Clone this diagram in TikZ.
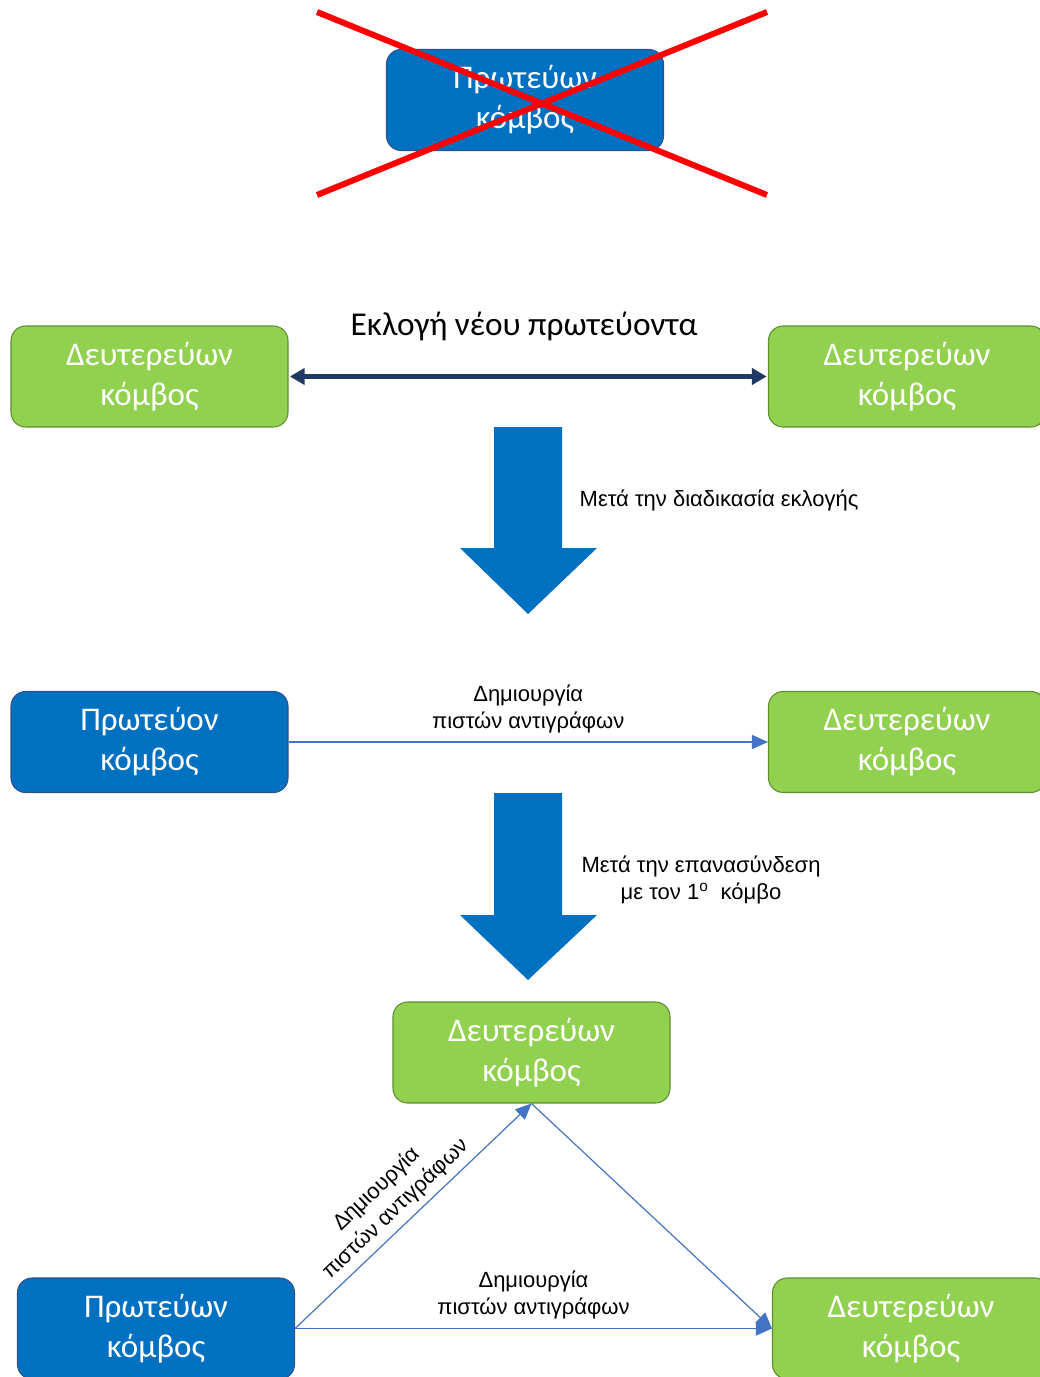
\documentclass[tikz,border=0pt]{standalone}
\usepackage{fontspec}
\setmainfont{Carlito}
\newfontfamily\labelfont{Liberation Sans}
\usetikzlibrary{arrows.meta}
\definecolor{nodeblue}{HTML}{0070C0}
\definecolor{blueedge}{HTML}{2F528F}
\definecolor{nodegreen}{HTML}{92D050}
\definecolor{greenedge}{HTML}{5E8E30}
\definecolor{navy}{HTML}{1F3864}
\definecolor{linkblue}{HTML}{4472C4}
\definecolor{crossred}{HTML}{FF0000}
\tikzset{
  nodebox/.style={rectangle, rounded corners=11pt, minimum width=207.75pt, minimum height=75.75pt,
    align=center, text=white, font=\fontsize{24.8}{30}\selectfont, inner sep=0pt},
  primary/.style={nodebox, fill=nodeblue, draw=blueedge, line width=0.8pt},
  secondary/.style={nodebox, fill=nodegreen, draw=greenedge, line width=0.8pt},
  linklabel/.style={font=\labelfont\fontsize{16.5}{20.5}\selectfont, align=center, text=black},
  replica/.style={draw=linkblue, line width=0.9pt, -{Triangle[length=12pt,width=10.5pt]}},
  blockarrow/.style={fill=nodeblue, draw=none}
}
\begin{document}
\begin{tikzpicture}[x=0.75pt,y=-0.75pt]
\useasboundingbox (0,0) rectangle (1039,1377);

% failed primary, crossed out
\node[primary] (old) at (525,100) {Πρωτεύων\\κόμβος};
\coordinate (xa) at (317,12);
\coordinate (xb) at (767,195);
\coordinate (xc) at (317,195);
\coordinate (xd) at (767,12);
\draw[crossred, line width=4.5pt] (xa) -- (xb);
\draw[crossred, line width=4.5pt] (xc) -- (xd);

% election between the two secondaries
\node[secondary] (s1) at (149.5,376.5) {Δευτερεύων\\κόμβος};
\node[secondary] (s2) at (907,376.5) {Δευτερεύων\\κόμβος};
\draw[navy, line width=3.6pt, {Triangle[length=11pt,width=12pt]}-{Triangle[length=11pt,width=12pt]}]
  ([xshift=1pt]s1.east) -- ([xshift=-1pt]s2.west);
\node[font=\fontsize{25}{30}\selectfont, text=black] (elect) at (524,326) {Εκλογή νέου πρωτεύοντα};

% first transition
\fill[blockarrow] (494,427) -- (562,427) -- (562,548) -- (597,548) -- (528,614) -- (460,548) -- (494,548) -- cycle;
\node[linklabel, anchor=west] (after1) at (575,500) {Μετά την διαδικασία εκλογής};

% new primary replicating to the secondary
\node[primary] (p2) at (149.5,742) {Πρωτεύον\\κόμβος};
\node[secondary] (s3) at (907,742) {Δευτερεύων\\κόμβος};
\draw[replica] (p2.east) -- (s3.west)
  node[midway, above=3pt, linklabel] (rep1) {Δημιουργία\\πιστών αντιγράφων};

% second transition
\fill[blockarrow] (494,793) -- (562,793) -- (562,915) -- (597,915) -- (528,980) -- (460,915) -- (494,915) -- cycle;
\node[linklabel] (after2) at (701,880) {Μετά την επανασύνδεση\\με τον 1\textsuperscript{ο}\ \ κόμβο};

% final state
\node[secondary] (s4) at (531.5,1052.5) {Δευτερεύων\\κόμβος};
\node[primary] (p3) at (156,1328.5) {Πρωτεύων\\κόμβος};
\node[secondary] (s5) at (911,1328.5) {Δευτερεύων\\κόμβος};
\draw[replica] (p3.east) -- (s4.south)
  node[midway, sloped, above=1pt, xshift=-6pt, linklabel] (rep2) {Δημιουργία\\πιστών αντιγράφων};
\draw[replica] (s4.south) -- (s5.west);
\draw[replica] (p3.east) -- (s5.west)
  node[midway, above=3pt, linklabel] (rep3) {Δημιουργία\\πιστών αντιγράφων};
\end{tikzpicture}
\end{document}
